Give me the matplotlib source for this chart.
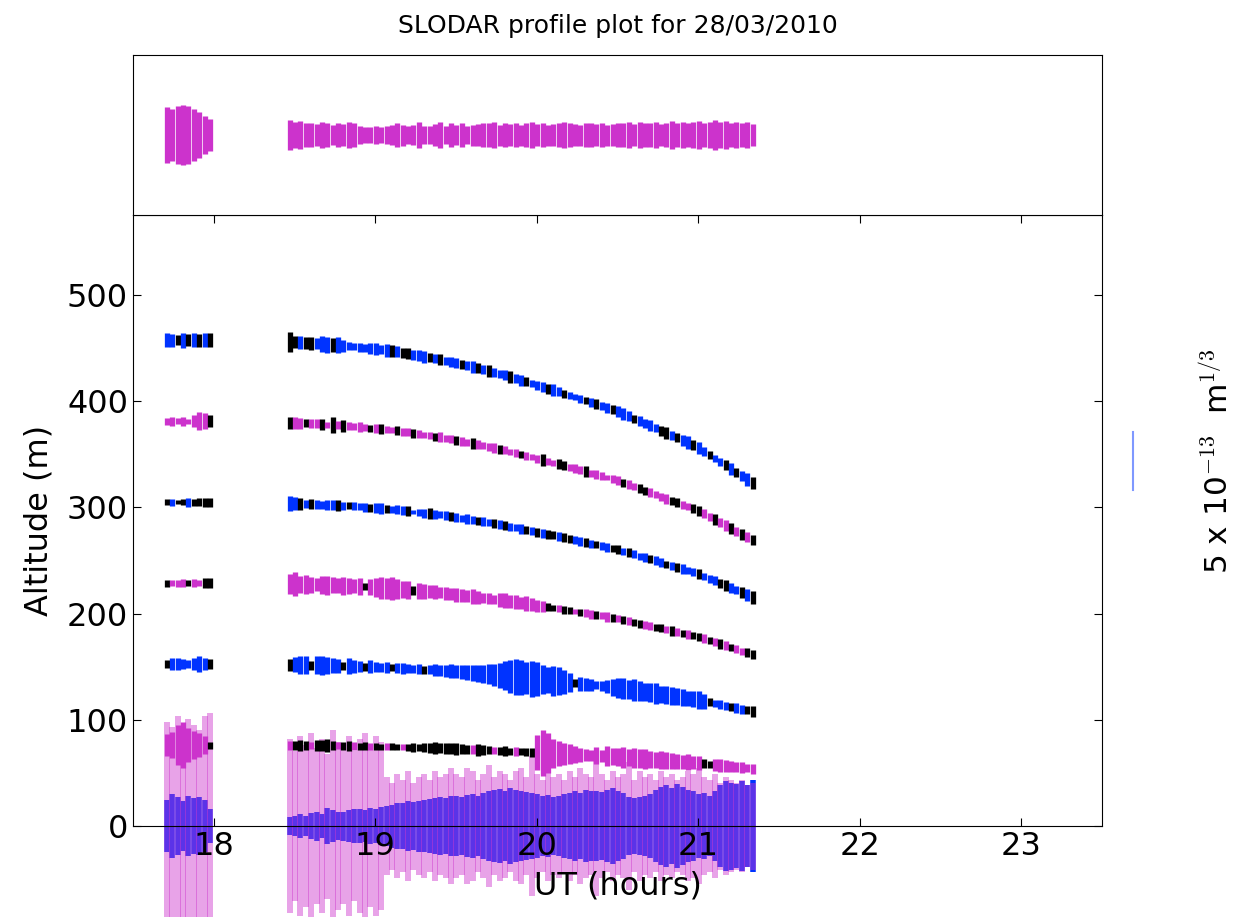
import numpy as np
import matplotlib
matplotlib.use("Agg")
import matplotlib.pyplot as plt
from matplotlib.collections import LineCollection
from matplotlib import transforms

plt.rcParams["mathtext.fontset"] = "cm"

# sample times in UT hours: short run before 18h, then the main run (2 min cadence)
ut = np.concatenate([17.71 + np.arange(9) / 30.0, 18.47 + np.arange(87) / 30.0])

# height of one SLODAR bin (m) at each sample, shrinks as the target sets
bin_height = [76.2, 76.2, 76.2, 76.2, 76.2, 76.2, 76.2, 76.2, 76.2,
              75.9, 75.9, 75.8, 75.8, 75.7, 75.7, 75.6, 75.5, 75.5, 75.4, 75.3, 75.3, 75.2, 75.1, 75.0, 74.9,
              74.8, 74.7, 74.6, 74.5, 74.4, 74.2, 74.1, 73.9, 73.8, 73.6, 73.5, 73.3, 73.2, 73.0, 72.8,
              72.6, 72.4, 72.2, 72.0, 71.8, 71.6, 71.4, 71.1, 70.9, 70.7, 70.4, 70.2, 69.9, 69.7, 69.4,
              69.1, 68.9, 68.6, 68.4, 68.1, 67.8, 67.5, 67.3, 67.0, 66.7, 66.4, 66.2, 65.9, 65.6, 65.3,
              65.0, 64.6, 64.3, 63.9, 63.5, 63.1, 62.8, 62.4, 62.0, 61.6, 61.2, 60.9, 60.5, 60.1, 59.8,
              59.3, 58.8, 58.2, 57.7, 57.1, 56.6, 56.0, 55.5, 54.9, 54.4, 53.8]

# turbulence strength per bin, units of 1e-13 m^(1/3); negative estimates are drawn black
cn2_bin6 = [1.25, 1.1, -0.9, 1.3, -1.0, 1.2, -1.1, 1.25, -1.2,
            -1.7, -1.0, 1.1, -1.0, -1.1, 1.0, 1.3, 1.4, -1.2, 1.35, 1.1, 0.75, 0.6, 0.8, 0.7, 0.9,
            1.0, 0.8, 1.1, -1.0, 1.0, -0.9, -1.0, 0.8, 0.9, 1.0, -0.8, 0.75, -1.0, 0.7, 0.8,
            0.9, -0.75, 0.8, 1.0, -0.9, 0.7, -1.0, 0.8, 0.75, 0.9, -1.0, 0.85, 1.0, -0.8, 0.6,
            0.75, 0.9, -0.85, 1.0, 0.8, -0.7, 0.6, 0.5, 0.65, -0.6, 0.8, -0.9, 0.75, 0.85, -0.8,
            0.9, 1.0, 0.8, -0.7, 0.9, 0.75, 1.0, 0.7, -0.9, -1.0, 0.8, -0.75, 0.9, 1.1, -0.85,
            1.0, 0.8, -0.7, 0.6, 0.75, -0.85, 1.0, -0.75, 0.9, 1.1, -1.0]
cn2_bin5 = [0.6, 0.8, 0.5, 0.75, 0.4, 1.0, 1.5, 1.4, -1.0,
            -1.0, 1.0, 0.9, -0.7, 0.75, 0.8, -1.0, 0.5, -1.4, 0.7, -1.0, 0.75, 0.6, 0.8, 0.65, -0.6,
            0.75, -0.9, 0.6, 0.5, -0.75, 0.65, 0.7, -0.8, 0.75, 0.5, 0.6, -0.7, 0.8, 0.6, 0.7,
            -0.75, 0.8, 0.6, -1.0, 0.75, 0.6, 0.7, 0.9, -0.8, 0.7, 0.6, 0.75, -0.6, 0.7, 0.5,
            0.75, -1.0, 0.6, 0.5, -0.9, -0.75, 0.6, 0.7, 0.75, -0.9, 0.6, 0.8, 0.7, 0.5, 0.65,
            0.75, -0.7, 0.8, 0.6, -0.8, -0.7, 0.75, 0.6, 0.7, 0.9, -0.75, -0.85, 0.7, 0.6, -0.8,
            -0.9, 0.75, 0.7, -1.0, 0.8, 0.9, -0.9, 0.75, -1.0, 0.8, -0.9]
cn2_bin4 = [-0.5, 0.6, -0.4, -0.5, 0.75, -0.6, -0.7, -0.8, -0.75,
            1.25, 1.1, -1.0, 0.75, -0.9, 0.8, 0.7, 0.8, 0.9, -1.0, 0.75, -0.6, 0.7, 0.6, 0.75, -0.7,
            0.8, 0.9, -0.7, 0.6, 0.8, 0.75, -0.8, 0.4, 0.6, 0.8, -0.9, 0.7, 0.6, 0.75, -0.8,
            0.7, 0.6, 0.9, 0.75, -0.7, 0.8, 0.6, -0.8, 0.75, -0.75, 0.7, 0.6, 0.8, -0.7, 0.65,
            -0.8, 0.75, -0.7, -0.7, 0.75, -0.8, -0.75, 0.7, 0.8, -0.75, 0.65, -0.6, 0.7, 0.75, -0.6,
            -0.8, 0.6, -0.75, 0.7, 0.6, 0.75, -0.7, 0.8, 0.75, -0.6, 0.7, -0.75, 0.8, 0.6, 0.7,
            -0.8, 0.6, 0.7, 0.75, -0.75, -0.9, 0.8, 0.7, -0.9, 1.0, -1.1]
cn2_bin3 = [-0.6, 0.5, 0.6, 0.7, -0.5, 0.7, 0.5, -0.9, -0.8,
            1.75, 2.0, 1.5, 1.7, 1.4, 1.1, 1.5, 1.6, 1.4, 1.3, 1.5, 1.4, 1.2, 1.5, -0.6, 1.4,
            1.6, 1.9, 1.8, 2.0, 1.7, 1.5, 1.6, -0.7, 1.4, 1.3, 1.1, 1.2, 1.0, 1.1, 1.0,
            1.2, 1.1, 1.0, 1.3, 1.1, 0.9, 1.0, 0.8, 1.2, 1.3, 1.1, 1.2, 1.0, 1.3, 1.1,
            1.0, 0.9, -0.7, -0.5, 0.6, -0.7, -0.6, 0.5, -0.6, 0.7, 0.75, -0.7, 0.6, 0.8, -0.7,
            0.6, -0.75, 0.7, -0.6, -0.7, 0.65, 0.7, -0.6, -0.7, 0.6, -0.8, 0.7, -0.6, 0.75, -0.65,
            -0.7, 0.75, -0.6, 0.7, -0.8, 0.75, -0.65, 0.7, 0.6, -0.75, -0.7]
cn2_bin2 = [-0.75, 1.0, 1.1, 0.9, 0.75, 1.0, 1.4, 1.0, -0.9,
            -1.0, 1.3, 1.5, 1.6, -0.8, 1.5, 1.6, 1.4, 1.3, 1.2, -0.7, 1.3, 1.1, 1.0, -0.7, 1.1,
            0.9, 0.8, 1.0, -0.6, 0.9, 1.0, 0.8, 0.7, 0.9, -0.7, 0.8, 1.0, 0.9, 1.1, 1.2,
            1.1, 1.2, 1.3, 1.4, 1.5, 1.6, 1.7, 1.9, 2.2, 2.5, 2.9, 3.1, 3.0, 2.8, 3.1,
            2.9, 2.5, 2.2, 2.6, 2.4, 2.0, 1.7, -0.7, 1.2, 1.1, 1.0, 0.7, 0.8, 1.1, 1.5,
            1.7, 1.8, 1.6, 1.9, 1.7, 1.5, 1.7, 1.8, 1.5, 1.6, 1.5, 1.4, 1.5, 1.3, 1.4,
            1.5, 1.3, -0.7, 0.6, 0.8, 0.7, -0.7, 0.9, 0.8, -0.7, -1.0]
cn2_bin1 = [1.9, 2.2, 3.4, 3.9, 3.0, 2.4, 2.0, 1.6, -0.6,
            0.8, -0.8, -0.9, -0.7, 0.6, -1.0, -0.9, -1.1, -0.8, 0.6, -0.7, -0.9, 0.7, -0.6, -0.7, 0.6,
            -0.6, -0.5, 0.6, -0.6, -0.5, 0.5, -0.6, -0.7, -0.6, -0.8, -0.9, -1.0, -0.9, -1.0, -0.9,
            -1.0, -0.9, -0.8, 0.7, -1.0, -0.8, -0.7, 0.6, -0.7, -0.8, -0.6, 0.7, -0.6, -0.7, -0.8,
            3.0, 4.0, 3.5, 2.5, 2.1, 1.9, 1.7, 1.5, 1.2, 1.0, 0.9, 1.5, 1.1, 1.7, 1.5,
            1.6, 1.8, 1.5, 1.7, 1.6, 1.8, 1.5, 1.4, 1.6, 1.5, 1.4, 1.3, 1.2, 1.4, 1.1,
            1.2, -0.7, -0.6, 1.0, 1.1, 1.0, 0.9, 0.8, 0.9, 0.7, 0.8]
# ground layer: fine estimate (blue) and wide estimate (pink)
cn2_ground = [4.5, 5.5, 5.0, 4.25, 5.25, 4.75, 5.0, 4.5, 3.0,
              1.5, 1.7, 2.0, 1.8, 2.25, 2.5, 2.1, 3.1, 2.75, 2.4, 2.5, 2.8, 2.9, 3.0, 2.75, 3.1,
              3.0, 3.3, 3.5, 3.7, 3.9, 4.0, 4.25, 4.1, 4.4, 4.5, 4.7, 4.9, 5.0, 4.8, 5.15,
              5.25, 5.0, 5.4, 5.5, 5.25, 5.75, 6.0, 6.25, 6.4, 6.1, 6.5, 6.25, 6.0, 5.9, 5.75,
              5.5, 5.25, 5.4, 5.0, 5.25, 5.5, 5.75, 6.0, 5.75, 6.25, 6.0, 6.1, 5.9, 6.25, 6.5,
              6.0, 5.75, 5.0, 4.75, 5.0, 5.25, 5.5, 6.25, 6.75, 7.0, 6.5, 7.25, 6.75, 6.25, 6.0,
              5.5, 5.75, 5.25, 6.0, 7.0, 7.75, 7.5, 7.25, 7.75, 7.0, 8.0]
cn2_ground_wide = [18, 17, 19, 16, 18.5, 17.5, 16.5, 19, 19.5,
                   15, 13, 15.5, 14, 16, 13.5, 15, 12.5, 16.5, 14.5, 13.5, 15.5, 13, 15, 16, 14,
                   15.5, 14.5, 8.5, 7.5, 9, 8, 9.5, 7.5, 8.5, 9, 8, 9.5, 8.5, 9, 10,
                   9, 8.5, 10, 9.5, 8, 9, 10.5, 8.5, 9.5, 9, 8, 9.5, 10, 8.5, 12,
                   9, 8, 9.5, 8.5, 9, 8, 9.5, 8.5, 10, 9, 8.5, 12, 9, 8, 9.5,
                   8.5, 9, 11, 8, 9.5, 8.5, 9, 8, 9.5, 8.5, 9, 8, 8.5, 9.5, 9,
                   10, 8.5, 8, 9, 7.5, 8.5, 8, 7.5, 8, 7, 7.5]
# turbulence above the highest bin (top panel)
cn2_above = [4.75, 4.5, 5.0, 5.1, 4.9, 4.5, 4.0, 3.25, 2.75,
             2.5, 2.25, 2.4, 2.0, 2.1, 1.9, 2.25, 2.0, 1.75, 2.1, 1.9, 2.25, 2.0, 1.5, 1.4, 1.3,
             1.5, 1.4, 1.6, 1.75, 2.1, 1.8, 1.5, 1.7, 2.25, 1.5, 1.6, 1.9, 2.25, 1.5, 2.0,
             1.75, 2.0, 1.5, 1.8, 1.9, 2.1, 2.0, 2.25, 1.8, 2.0, 1.9, 2.1, 1.8, 2.0, 2.2,
             1.9, 2.0, 1.8, 1.9, 2.1, 2.25, 2.0, 1.9, 1.8, 2.0, 2.1, 1.9, 2.0, 1.8, 1.9,
             2.0, 2.1, 2.25, 1.9, 2.3, 2.0, 2.1, 2.2, 1.9, 2.0, 2.4, 2.1, 2.3, 2.0, 2.2,
             2.4, 2.1, 2.25, 2.5, 2.2, 2.4, 2.0, 2.3, 2.1, 2.2, 1.9]

BLUE = "#0033ff"
MAGENTA = "#cc33cc"
SCALE_VALUE = 5.0          # 5 x 1e-13 m^(1/3) reference bar
M_PER_UNIT = 54.6 / 5.0    # metres of bar per 1e-13 m^(1/3)

bin_height = np.array(bin_height)


def segments(centre, vals):
    half = np.abs(np.asarray(vals, dtype=float)) * M_PER_UNIT / 2.0
    return [[(x, c - h), (x, c + h)] for x, c, h in zip(ut, centre, half)]


fig = plt.figure(figsize=(12.39, 9.17), dpi=100)
ax = fig.add_axes([0.1073, 0.0992, 0.7821, 0.6663])
ax_top = fig.add_axes([0.1073, 0.7655, 0.7821, 0.1745], sharex=ax)

# ground layer straddles zero and spills outside the axes
zero = np.zeros(len(ut))
lc = LineCollection(segments(zero, cn2_ground), colors=BLUE, linewidths=4.0,
                    zorder=1, clip_on=False)
ax.add_collection(lc)
lc = LineCollection(segments(zero, cn2_ground_wide), colors=MAGENTA, linewidths=4.3,
                    alpha=0.45, zorder=1.5, clip_on=False)
ax.add_collection(lc)

bins = [cn2_bin1, cn2_bin2, cn2_bin3, cn2_bin4, cn2_bin5, cn2_bin6]
for k, vals in enumerate(bins, start=1):
    base = BLUE if k % 2 == 0 else MAGENTA
    cols = ["black" if v < 0 else base for v in vals]
    lc = LineCollection(segments(k * bin_height, vals), colors=cols,
                        linewidths=3.8, zorder=2)
    ax.add_collection(lc)

ax_top.add_collection(LineCollection(segments(zero, cn2_above), colors=MAGENTA,
                                     linewidths=3.8))

ax.set_xlim(17.5, 23.5)
ax.set_ylim(0, 575)
ax.set_xticks([18, 19, 20, 21, 22, 23])
ax.set_yticks([0, 100, 200, 300, 400, 500])
ax.tick_params(direction="in", top=True, right=True, length=6, labelsize=23)
ax.set_xlabel("UT (hours)", fontsize=23, labelpad=6)
ax.set_ylabel("Altitude (m)", fontsize=23, labelpad=9)

ax_top.set_ylim(-75, 75)
ax_top.tick_params(left=False, bottom=False, labelleft=False, labelbottom=False)
ax_top.set_title("SLODAR profile plot for 28/03/2010", fontsize=18, pad=16)

# reference bar for the segment lengths
trans = transforms.blended_transform_factory(fig.transFigure, ax.transData)
bar_y0 = 316.0
bar_len = SCALE_VALUE * M_PER_UNIT
ax.plot([0.9144, 0.9144], [bar_y0, bar_y0 + bar_len], color=BLUE, alpha=0.5,
        linewidth=1.5, transform=trans, clip_on=False)
ax.text(0.9830, bar_y0 + bar_len / 2, r"5 x 10$^{-13}$  m$^{1/3}$", transform=trans,
        rotation=90, ha="center", va="center", fontsize=22.5)

fig.savefig("out.png", dpi=100)
